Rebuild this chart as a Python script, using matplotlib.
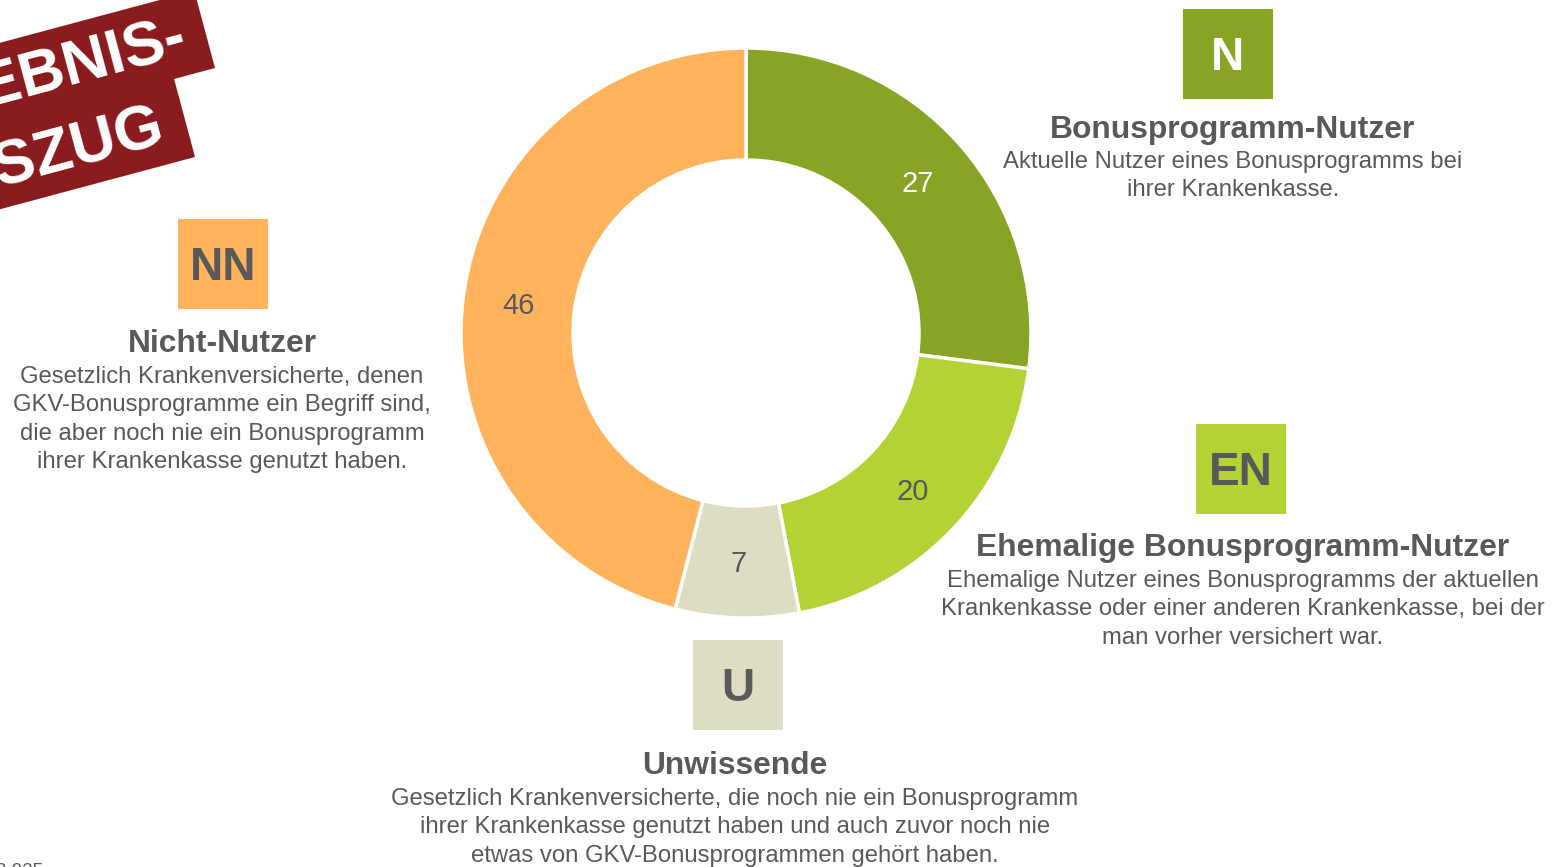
import matplotlib
matplotlib.use("Agg")
import matplotlib.pyplot as plt
from matplotlib.patches import Rectangle, Polygon
import numpy as np

# ---- data ----
segments = ["Bonusprogramm-Nutzer", "Ehemalige Bonusprogramm-Nutzer", "Unwissende", "Nicht-Nutzer"]
values = [27, 20, 7, 46]
colors = ["#88A424", "#B3D334", "#DEDCC3", "#FEB35C"]
label_colors = ["white", "#595959", "#595959", "#595959"]
codes = ["N", "EN", "U", "NN"]
code_colors = ["white", "#595959", "#595959", "#595959"]
descriptions = [
    "Aktuelle Nutzer eines Bonusprogramms bei\nihrer Krankenkasse.",
    "Ehemalige Nutzer eines Bonusprogramms der aktuellen\nKrankenkasse oder einer anderen Krankenkasse, bei der\nman vorher versichert war.",
    "Gesetzlich Krankenversicherte, die noch nie ein Bonusprogramm\nihrer Krankenkasse genutzt haben und auch zuvor noch nie\netwas von GKV-Bonusprogrammen gehört haben.",
    "Gesetzlich Krankenversicherte, denen\nGKV-Bonusprogramme ein Begriff sind,\ndie aber noch nie ein Bonusprogramm\nihrer Krankenkasse genutzt haben.",
]
banner_lines = ["ERGEBNIS-", "AUSZUG"]
footnote = "n = 2.025"

# ---- layout (pixel coordinates, y downward) ----
W, H = 1557, 867
grey = "#595959"
font = "Liberation Sans"

fig = plt.figure(figsize=(W / 100, H / 100), dpi=100)
ax = fig.add_axes([0, 0, 1, 1])

center = (746, 333)
r_out, r_in = 285, 173
wedges, texts, autotexts = ax.pie(
    values, colors=colors, startangle=-90, counterclock=True,
    center=center, radius=r_out,
    wedgeprops=dict(width=r_out - r_in, edgecolor="white", linewidth=2.5),
    autopct=lambda p: f"{p:.0f}", pctdistance=(r_out + r_in) / 2 / r_out,
    textprops=dict(fontsize=21, family=font),
)
for t, c in zip(autotexts, label_colors):
    t.set_color(c)
    x, y = t.get_position()
    t.set_position((x, y + 2))

ax.set_xlim(0, W)
ax.set_ylim(H, 0)
ax.set_aspect("equal")
ax.axis("off")

# legend blocks: box center x, box top y, title y, desc first line y
blocks = [
    dict(bx=1228, by=9, cx=1233, ty=127, dy=160),
    dict(bx=1241, by=424, cx=1243, ty=545, dy=579),
    dict(bx=738, by=640, cx=735, ty=763, dy=797),
    dict(bx=223, by=219, cx=222, ty=341, dy=375),
]
box = 90
for i, b in enumerate(blocks):
    ax.add_patch(Rectangle((b["bx"] - box / 2, b["by"]), box, box,
                           facecolor=colors[i], edgecolor="none"))
    ax.text(b["bx"], b["by"] + box / 2 + 4, codes[i], ha="center", va="center",
            fontsize=33, fontweight="bold", color=code_colors[i], family=font)
    ax.text(b["cx"], b["ty"] + 3, segments[i], ha="center", va="center",
            fontsize=22.9, fontweight="bold", color=grey, family=font)
    ax.text(b["cx"], b["dy"] - 9, descriptions[i], ha="center", va="top",
            fontsize=17.2, color=grey, family=font, linespacing=1.37)

# banner (rotated red tags, top-left)
th = np.deg2rad(15)
u = np.array([np.cos(th), -np.sin(th)])
v = np.array([np.sin(th), np.cos(th)])
red = "#8A1B1E"
L = 450
br2 = np.array([195, 157])
tr2 = br2 - 86 * v
poly2 = [br2, tr2, tr2 - L * u, br2 - L * u]
br1 = np.array([215, 68])
tr1 = br1 - 80 * v
poly1 = [br1, tr1, tr1 - L * u, br1 - L * u]
for poly in (poly1, poly2):
    ax.add_patch(Polygon(np.array(poly), closed=True, facecolor=red, edgecolor="none"))
a1 = (br1 + tr1) / 2 - 20 * u
a2 = br2 - 40 * v - 22 * u
for anc, txt in zip((a1, a2), banner_lines):
    ax.text(anc[0], anc[1] + 2, txt, ha="right", va="center", rotation=15,
            rotation_mode="anchor", fontsize=45, fontweight="bold",
            color="white", family=font)

ax.text(43, 876, footnote, ha="right", va="baseline", fontsize=13.5,
        color=grey, family=font)

fig.savefig("out.png", dpi=100)
